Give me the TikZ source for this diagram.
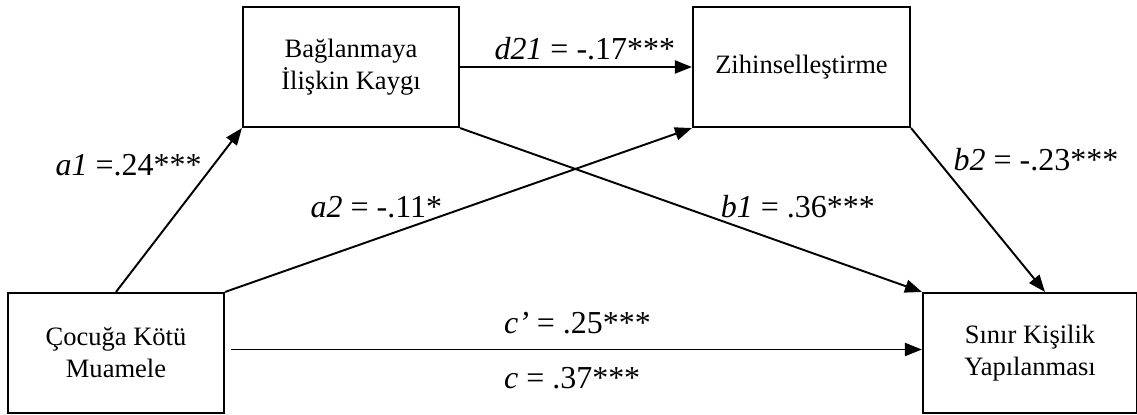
\documentclass[tikz,border=0pt]{standalone}
\usepackage{fontspec}
\setmainfont{Liberation Serif}
\usetikzlibrary{arrows.meta,positioning}
\newcommand\boxfont{\fontsize{15.1}{18.2}\selectfont}
\newcommand\labfont{\fontsize{18.2}{21.8}\selectfont}
\begin{document}
\begin{tikzpicture}[
  box/.style={draw, line width=1.2pt, align=center, font=\boxfont, minimum width=4.32cm, minimum height=2.4cm},
  flow/.style={-{Triangle[length=3.4mm, width=2.6mm]}, line width=1.1pt},
  lab/.style={font=\labfont, inner sep=0pt}]
\useasboundingbox (0,0) rectangle (22.74,8.28);
\node[box] (ck) at (2.32,1.22) {Çocuğa Kötü\\Muamele};
\node[box] (bk) at (7.02,6.94) {Bağlanmaya\\İlişkin Kaygı};
\node[box, minimum width=4.34cm] (zh) at (16.03,6.94) {Zihinselleştirme};
\node[box, minimum width=4.28cm] (sk) at (20.6,1.22) {Sınır Kişilik\\Yapılanması};
\draw[flow] (ck.north) -- node[lab, pos=.711, anchor=base east, xshift=-.06cm]{\textit{a1} =.24***} (bk.south west);
\draw[flow] (ck.north east) -- node[lab, pos=.467, anchor=base east, yshift=-.04cm]{\textit{a2} = -.11*} (zh.south west);
\draw[flow] (bk.east) -- node[lab, pos=.538, anchor=base, yshift=.14cm]{\textit{d21} = -.17***} (zh.west);
\draw[flow] (bk.south east) -- node[lab, pos=.5625, anchor=base west, yshift=.06cm]{\textit{b1} = .36***} (sk.north west);
\draw[flow] (zh.south east) -- node[lab, pos=.259, anchor=base west, xshift=.14cm]{\textit{b2} = -.23***} ([xshift=.3cm]sk.north);
\draw[flow, shorten <=.12cm] ([yshift=.07cm]ck.east) --
  node[lab, pos=.399, anchor=base west, yshift=.32cm]{\textit{c’} = .25***}
  node[lab, pos=.399, anchor=base west, yshift=-.78cm]{\textit{c} = .37***} ([yshift=.07cm]sk.west);
\end{tikzpicture}
\end{document}
